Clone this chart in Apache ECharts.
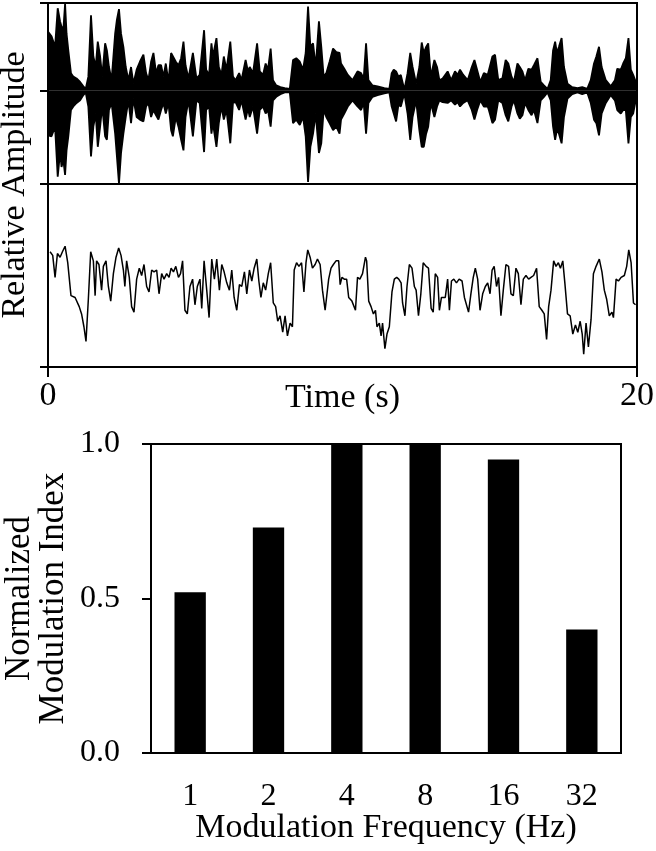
<!DOCTYPE html>
<html>
<head>
<meta charset="utf-8">
<title>Modulation index</title>
<script src="https://cdn.jsdelivr.net/npm/echarts@6.0.0/dist/echarts.min.js"></script>
<style>
  html, body { margin: 0; padding: 0; background: #fff; }
  #chart { width: 656px; height: 851px; }
</style>
</head>
<body>
<div id="chart"></div>
<script>
// speech waveform, read as upper / lower peak envelope (relative amplitude)
const waveT = [0.01,0.12,0.24,0.33,0.41,0.46,0.52,0.58,0.63,0.69,0.78,0.86,0.97,1.09,1.20,1.28,1.37,1.46,1.54,1.62,1.69,1.77,1.84,1.94,2.00,2.07,2.16,2.28,2.34,2.41,2.48,2.56,2.64,2.73,2.82,2.90,3.01,3.12,3.24,3.33,3.41,3.50,3.58,3.67,3.75,3.84,3.92,4.00,4.09,4.18,4.24,4.34,4.43,4.52,4.60,4.67,4.77,4.92,5.04,5.15,5.30,5.37,5.47,5.55,5.60,5.72,5.80,5.89,5.97,6.06,6.19,6.28,6.37,6.49,6.57,6.71,6.79,6.85,6.96,7.10,7.19,7.30,7.39,7.47,7.56,7.64,7.75,7.89,8.04,8.21,8.32,8.43,8.55,8.66,8.75,8.83,8.91,9.00,9.09,9.20,9.28,9.36,9.45,9.56,9.68,9.79,9.90,9.95,10.06,10.18,10.34,10.51,10.63,10.72,10.80,10.88,11.02,11.19,11.42,11.59,11.67,11.74,11.82,11.90,11.98,12.10,12.21,12.30,12.38,12.50,12.61,12.69,12.76,12.84,12.91,13.00,13.12,13.21,13.29,13.40,13.57,13.69,13.82,13.91,13.99,14.10,14.25,14.39,14.48,14.57,14.68,14.80,14.93,14.97,15.09,15.18,15.29,15.43,15.54,15.63,15.74,15.82,15.94,16.02,16.11,16.20,16.31,16.42,16.50,16.62,16.73,16.84,16.96,17.07,17.15,17.22,17.28,17.35,17.44,17.52,17.64,17.80,17.98,18.14,18.31,18.43,18.54,18.62,18.71,18.80,18.94,19.11,19.25,19.33,19.45,19.53,19.62,19.71,19.79,19.87,19.98];
const waveUp = [0.67,0.62,0.50,0.94,0.79,0.73,0.69,0.99,0.65,0.46,0.20,0.16,0.14,0.10,0.05,0.02,0.16,0.86,0.39,0.27,0.56,0.39,0.16,0.54,0.46,0.27,0.12,0.65,0.81,0.93,0.65,0.50,0.27,0.12,0.27,0.08,0.24,0.33,0.41,0.20,0.12,0.33,0.43,0.20,0.29,0.29,0.16,0.31,0.10,0.43,0.44,0.33,0.29,0.37,0.56,0.29,0.14,0.43,0.14,0.18,0.69,0.24,0.18,0.54,0.39,0.60,0.27,0.18,0.39,0.24,0.56,0.16,0.12,0.20,0.12,0.35,0.22,0.27,0.20,0.54,0.22,0.18,0.31,0.24,0.48,0.12,0.06,0.04,0.03,0.02,0.35,0.37,0.33,0.24,0.43,0.96,0.50,0.54,0.27,0.79,0.50,0.16,0.20,0.33,0.48,0.44,0.43,0.31,0.25,0.18,0.12,0.22,0.20,0.14,0.54,0.12,0.06,0.05,0.03,0.02,0.20,0.24,0.22,0.16,0.18,0.01,0.20,0.43,0.27,0.08,0.27,0.55,0.43,0.50,0.54,0.16,0.35,0.27,0.12,0.14,0.22,0.12,0.22,0.18,0.24,0.18,0.12,0.27,0.35,0.24,0.10,0.20,0.18,0.16,0.39,0.41,0.12,0.14,0.35,0.31,0.16,0.10,0.31,0.27,0.22,0.12,0.25,0.24,0.29,0.37,0.10,0.06,0.02,0.12,0.46,0.56,0.43,0.50,0.60,0.27,0.08,0.04,0.03,0.04,0.02,0.12,0.31,0.39,0.50,0.27,0.12,0.05,0.12,0.25,0.24,0.31,0.37,0.60,0.24,0.18,0.08];
const waveLo = [0.51,0.52,0.41,0.98,0.70,0.87,0.79,0.96,0.68,0.52,0.22,0.18,0.14,0.11,0.05,0.02,0.18,0.75,0.41,0.26,0.64,0.41,0.18,0.52,0.56,0.22,0.14,0.49,0.75,1.06,0.71,0.49,0.30,0.11,0.37,0.09,0.30,0.33,0.35,0.18,0.14,0.30,0.22,0.28,0.33,0.22,0.14,0.26,0.14,0.45,0.52,0.30,0.41,0.56,0.68,0.30,0.11,0.52,0.11,0.14,0.70,0.22,0.18,0.49,0.37,0.64,0.37,0.18,0.33,0.22,0.60,0.14,0.13,0.22,0.11,0.33,0.20,0.30,0.18,0.49,0.22,0.18,0.26,0.22,0.41,0.11,0.07,0.04,0.02,0.02,0.37,0.33,0.39,0.30,0.52,1.04,0.64,0.49,0.26,0.71,0.60,0.22,0.30,0.37,0.45,0.41,0.49,0.33,0.26,0.18,0.11,0.18,0.22,0.14,0.49,0.14,0.07,0.05,0.03,0.02,0.18,0.26,0.35,0.16,0.18,0.03,0.26,0.56,0.30,0.11,0.45,0.64,0.64,0.49,0.41,0.14,0.30,0.18,0.11,0.13,0.14,0.11,0.16,0.13,0.18,0.14,0.11,0.22,0.33,0.22,0.11,0.18,0.18,0.22,0.37,0.33,0.11,0.14,0.28,0.35,0.18,0.11,0.26,0.32,0.28,0.14,0.22,0.28,0.22,0.37,0.11,0.07,0.02,0.11,0.41,0.56,0.45,0.49,0.60,0.30,0.09,0.04,0.02,0.04,0.02,0.14,0.33,0.37,0.51,0.26,0.14,0.05,0.11,0.22,0.26,0.22,0.22,0.60,0.30,0.26,0.07];

// extracted envelope (lower panel), 0 = bottom of panel, 1 = top
const envT = [0.07,0.16,0.24,0.32,0.41,0.49,0.58,0.67,0.78,0.92,1.06,1.14,1.22,1.29,1.37,1.45,1.54,1.60,1.65,1.73,1.82,1.88,1.97,2.05,2.13,2.22,2.31,2.40,2.48,2.56,2.61,2.67,2.76,2.84,2.92,3.01,3.10,3.18,3.26,3.35,3.43,3.52,3.60,3.69,3.77,3.86,3.94,4.03,4.11,4.18,4.26,4.34,4.43,4.50,4.57,4.65,4.73,4.82,4.91,4.99,5.07,5.16,5.22,5.30,5.39,5.47,5.56,5.65,5.73,5.82,5.90,5.98,6.07,6.16,6.24,6.32,6.41,6.50,6.58,6.67,6.75,6.84,6.92,7.00,7.09,7.16,7.23,7.31,7.39,7.48,7.56,7.65,7.73,7.80,7.88,7.97,8.05,8.13,8.22,8.30,8.36,8.44,8.52,8.61,8.69,8.76,8.82,8.90,8.98,9.07,9.15,9.24,9.32,9.41,9.53,9.61,9.69,9.78,9.87,9.92,9.98,10.06,10.14,10.21,10.32,10.44,10.51,10.59,10.68,10.78,10.82,10.89,10.97,11.05,11.12,11.17,11.25,11.31,11.36,11.44,11.51,11.59,11.68,11.76,11.84,11.91,11.99,12.04,12.12,12.19,12.27,12.36,12.44,12.50,12.58,12.66,12.74,12.84,12.92,13.01,13.08,13.15,13.23,13.29,13.36,13.42,13.49,13.57,13.63,13.70,13.78,13.87,13.96,14.06,14.14,14.19,14.28,14.36,14.44,14.51,14.59,14.67,14.76,14.85,14.93,15.01,15.08,15.15,15.23,15.30,15.38,15.46,15.55,15.64,15.72,15.80,15.89,15.97,16.06,16.14,16.23,16.32,16.40,16.49,16.59,16.68,16.77,16.85,16.93,17.00,17.08,17.17,17.25,17.33,17.40,17.48,17.55,17.64,17.73,17.82,17.91,17.99,18.07,18.14,18.19,18.27,18.35,18.44,18.52,18.61,18.72,18.81,18.89,18.97,19.06,19.15,19.20,19.29,19.37,19.46,19.57,19.65,19.72,19.80,19.88,19.95];
const envV = [0.63,0.61,0.49,0.62,0.60,0.63,0.66,0.57,0.39,0.38,0.33,0.29,0.22,0.14,0.37,0.63,0.58,0.39,0.58,0.56,0.42,0.55,0.58,0.44,0.36,0.51,0.60,0.65,0.61,0.53,0.44,0.58,0.49,0.33,0.30,0.48,0.54,0.50,0.56,0.44,0.41,0.53,0.52,0.53,0.40,0.51,0.48,0.51,0.49,0.54,0.52,0.55,0.49,0.51,0.58,0.31,0.29,0.44,0.48,0.34,0.44,0.48,0.32,0.58,0.42,0.27,0.59,0.48,0.59,0.42,0.56,0.52,0.46,0.42,0.53,0.38,0.31,0.45,0.44,0.52,0.40,0.53,0.47,0.54,0.59,0.47,0.38,0.46,0.42,0.51,0.57,0.35,0.33,0.25,0.28,0.19,0.28,0.17,0.24,0.22,0.53,0.57,0.55,0.57,0.41,0.57,0.64,0.60,0.54,0.56,0.59,0.56,0.42,0.31,0.48,0.54,0.56,0.58,0.58,0.45,0.49,0.48,0.48,0.38,0.36,0.31,0.49,0.48,0.51,0.60,0.58,0.36,0.33,0.29,0.31,0.22,0.24,0.17,0.24,0.10,0.18,0.22,0.41,0.48,0.49,0.48,0.46,0.35,0.28,0.44,0.56,0.54,0.44,0.42,0.28,0.40,0.57,0.55,0.54,0.32,0.30,0.51,0.49,0.31,0.38,0.39,0.38,0.48,0.31,0.47,0.48,0.46,0.48,0.47,0.38,0.37,0.30,0.40,0.49,0.54,0.48,0.31,0.40,0.44,0.46,0.40,0.53,0.55,0.44,0.49,0.28,0.42,0.56,0.55,0.40,0.39,0.54,0.51,0.34,0.48,0.50,0.48,0.49,0.50,0.54,0.33,0.31,0.29,0.15,0.33,0.42,0.58,0.55,0.57,0.54,0.58,0.46,0.29,0.28,0.18,0.23,0.19,0.25,0.18,0.07,0.24,0.11,0.26,0.51,0.55,0.59,0.52,0.42,0.37,0.28,0.30,0.27,0.48,0.47,0.49,0.50,0.55,0.64,0.57,0.35,0.34];

// bar panel
const freqLabels = ['1', '2', '4', '8', '16', '32'];
const modIndex = [0.52, 0.73, 1.0, 1.0, 0.95, 0.40];

const waveMin = -1.064; // keeps the zero line where the original puts it
const FONT = '"Liberation Serif", "Times New Roman", serif';
const tickStyle = { color: '#000', width: 2 };
const hidden = { show: false };

const chart = echarts.init(document.getElementById('chart'));

chart.setOption({
  animation: false,
  backgroundColor: '#fff',
  textStyle: { fontFamily: FONT, color: '#000' },
  grid: [
    { left: 48, top: 3, width: 589, height: 181, show: true, borderColor: '#000', borderWidth: 2, outerBoundsMode: 'none' },
    { left: 48, top: 184, width: 589, height: 183, show: true, borderColor: '#000', borderWidth: 2, outerBoundsMode: 'none' },
    { left: 151, top: 444, width: 470, height: 309, show: true, borderColor: '#000', borderWidth: 2, outerBoundsMode: 'none' },
    // only carries the shared y title of the two top panels
    { left: 48, top: 3, width: 589, height: 364, outerBoundsMode: 'none' }
  ],
  xAxis: [
    { gridIndex: 0, type: 'value', min: 0, max: 20, show: false },
    {
      gridIndex: 1,
      type: 'value',
      min: 0,
      max: 20,
      interval: 20,
      axisLine: { lineStyle: tickStyle },
      axisTick: { length: 10, lineStyle: tickStyle },
      axisLabel: { fontSize: 34, color: '#000', fontFamily: FONT, margin: 12 },
      splitLine: hidden,
      name: 'Time (s)',
      nameLocation: 'middle',
      nameGap: 14,
      nameMoveOverlap: false,
      nameTextStyle: { fontSize: 34, color: '#000', fontFamily: FONT }
    },
    {
      gridIndex: 2,
      type: 'category',
      data: freqLabels,
      axisLine: { lineStyle: tickStyle },
      axisTick: { length: 10, lineStyle: tickStyle },
      axisLabel: { fontSize: 32, color: '#000', fontFamily: FONT, margin: 28 },
      name: 'Modulation Frequency (Hz)',
      nameLocation: 'middle',
      nameGap: 58,
      nameMoveOverlap: false,
      nameTextStyle: { fontSize: 34, color: '#000', fontFamily: FONT }
    },
    { gridIndex: 3, type: 'value', min: 0, max: 1, show: false }
  ],
  yAxis: [
    {
      gridIndex: 0,
      type: 'value',
      min: waveMin,
      max: 1,
      axisLine: { show: true, lineStyle: tickStyle },
      axisTick: { show: true, length: 8, customValues: [waveMin, 0, 1], lineStyle: tickStyle },
      axisLabel: hidden,
      splitLine: hidden
    },
    {
      gridIndex: 1,
      type: 'value',
      min: 0,
      max: 1,
      interval: 1,
      axisLine: { show: true, lineStyle: tickStyle },
      axisTick: { show: true, length: 8, lineStyle: tickStyle },
      axisLabel: hidden,
      splitLine: hidden
    },
    {
      gridIndex: 2,
      type: 'value',
      min: 0,
      max: 1,
      interval: 0.5,
      axisLine: { show: true, lineStyle: tickStyle },
      axisTick: { show: true, length: 9, lineStyle: tickStyle },
      axisLabel: {
        fontSize: 32,
        color: '#000',
        fontFamily: FONT,
        margin: 31,
        formatter: (v) => v.toFixed(1)
      },
      splitLine: hidden,
      name: 'Normalized\nModulation Index',
      nameLocation: 'middle',
      nameGap: 80,
      nameMoveOverlap: false,
      nameTextStyle: { fontSize: 35, lineHeight: 34, color: '#000', fontFamily: FONT }
    },
    {
      gridIndex: 3,
      type: 'value',
      min: 0,
      max: 1,
      axisLine: hidden,
      axisTick: hidden,
      axisLabel: hidden,
      splitLine: hidden,
      name: 'Relative Amplitude',
      nameLocation: 'middle',
      nameGap: 16,
      nameMoveOverlap: false,
      nameTextStyle: { fontSize: 34, color: '#000', fontFamily: FONT }
    }
  ],
  series: [
    {
      name: 'waveform +',
      type: 'line',
      xAxisIndex: 0,
      yAxisIndex: 0,
      data: waveT.map((t, i) => [t, waveUp[i]]),
      symbol: 'none',
      lineStyle: { color: '#000', width: 1.8 },
      areaStyle: { color: '#000', opacity: 1 }
    },
    {
      name: 'waveform -',
      type: 'line',
      xAxisIndex: 0,
      yAxisIndex: 0,
      data: waveT.map((t, i) => [t, -waveLo[i]]),
      symbol: 'none',
      lineStyle: { color: '#000', width: 1.8 },
      areaStyle: { color: '#000', opacity: 1 }
    },
    {
      name: 'envelope',
      type: 'line',
      xAxisIndex: 1,
      yAxisIndex: 1,
      data: envT.map((t, i) => [t, envV[i]]),
      symbol: 'none',
      lineStyle: { color: '#000', width: 1.5 }
    },
    {
      name: 'modulation index',
      type: 'bar',
      xAxisIndex: 2,
      yAxisIndex: 2,
      data: modIndex,
      barWidth: '40%',
      itemStyle: { color: '#000' }
    }
  ]
});
</script>
</body>
</html>
